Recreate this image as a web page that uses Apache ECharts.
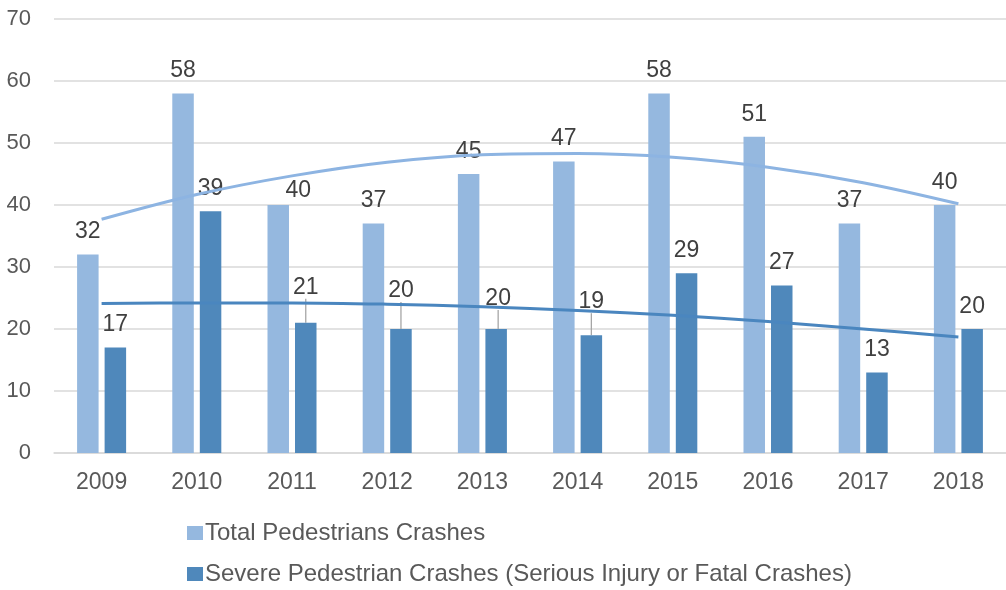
<!DOCTYPE html>
<html lang="en" style="height: 100%">
<head>
  <meta charset="utf-8">
</head>
<body style="height: 100%; margin: 0; background: #fff">
  <div id="container" style="width: 1006px; height: 590px"></div>

  <script type="text/javascript" src="https://cdn.jsdelivr.net/npm/echarts@6/dist/echarts.min.js"></script>

  <script type="text/javascript">
    // data
    const years = ['2009', '2010', '2011', '2012', '2013', '2014', '2015', '2016', '2017', '2018'];
    const totalCrashes = [32, 58, 40, 37, 45, 47, 58, 51, 37, 40];
    const severeCrashes = [17, 39, 21, 20, 20, 19, 29, 27, 13, 20];
    // trend lines (polynomial) read at each year
    const totalTrend = [37.7, 41.7, 44.7, 46.9, 48.1, 48.3, 47.7, 46.1, 43.6, 40.2];
    const severeTrend = [24.1, 24.2, 24.2, 24.0, 23.6, 23.0, 22.2, 21.2, 20.0, 18.7];
    const yTicks = [0, 10, 20, 30, 40, 50, 60, 70];

    // label nudges (px) where labels were dragged in the original
    const totalLabelMove = { 2: [20, 8] };
    const severeLabelMove = { 2: [0, -13], 3: [0, -16], 4: [2, -8], 5: [0, -11] };

    const lightBlue = '#95B8DF';
    const darkBlue = '#4F88BB';
    const font = 'Liberation Sans, Arial, sans-serif';

    var dom = document.getElementById('container');
    var myChart = echarts.init(dom, null, { renderer: 'canvas' });

    function moveLayout(moves) {
      return function (params) {
        var m = moves[params.dataIndex];
        if (!m) return {};
        return { dx: m[0], dy: m[1] };
      };
    }

    var option = {
      animation: false,
      textStyle: { fontFamily: font },
      grid: { left: 54, top: 19, width: 962, height: 434 },
      legend: {
        orient: 'vertical',
        left: 187,
        top: 521,
        height: 120,
        padding: 0,
        itemGap: 17,
        itemWidth: 16,
        itemHeight: 14,
        icon: 'rect',
        data: ['Total Pedestrians Crashes', 'Severe Pedestrian Crashes (Serious Injury or Fatal Crashes)'],
        textStyle: { fontSize: 24, color: '#595959', fontFamily: font, padding: [0, 0, 0, -3] }
      },
      xAxis: {
        type: 'category',
        data: years,
        axisLine: { lineStyle: { color: '#D9D9D9', width: 1.5 } },
        axisTick: { show: false },
        axisLabel: { fontSize: 23, color: '#595959', margin: 18 }
      },
      yAxis: {
        type: 'value',
        min: yTicks[0],
        max: yTicks[yTicks.length - 1],
        interval: 10,
        axisLine: { show: false },
        axisTick: { show: false },
        axisLabel: { fontSize: 22, color: '#595959', margin: 23 },
        splitLine: { lineStyle: { color: '#D9D9D9', width: 1.5 } }
      },
      series: [
        {
          name: 'Total Pedestrians Crashes',
          type: 'bar',
          data: totalCrashes,
          barWidth: 21.5,
          barGap: '28%',
          z: 2,
          itemStyle: { color: lightBlue },
          label: { show: true, position: 'top', distance: 11, fontSize: 23, color: '#404040' },
          labelLayout: moveLayout(totalLabelMove)
        },
        {
          name: 'Severe Pedestrian Crashes (Serious Injury or Fatal Crashes)',
          type: 'bar',
          data: severeCrashes.map(function (v, i) {
            return severeLabelMove[i] ? { value: v, labelLine: { show: true } } : v;
          }),
          barWidth: 21.5,
          z: 2,
          itemStyle: { color: darkBlue },
          label: { show: true, position: 'top', distance: 11, fontSize: 23, color: '#404040' },
          labelLayout: moveLayout(severeLabelMove),
          labelLine: { show: false, lineStyle: { color: '#A6A6A6', width: 1.3 } }
        },
        {
          name: 'Total trend',
          type: 'line',
          data: totalTrend,
          smooth: 0.35,
          symbol: 'none',
          silent: true,
          z: 4,
          lineStyle: { color: '#8DB4E2', width: 3 }
        },
        {
          name: 'Severe trend',
          type: 'line',
          data: severeTrend,
          smooth: 0.35,
          symbol: 'none',
          silent: true,
          z: 4,
          lineStyle: { color: '#4A86BF', width: 3 }
        }
      ]
    };

    myChart.setOption(option);
    window.addEventListener('resize', myChart.resize);
  </script>
</body>
</html>
